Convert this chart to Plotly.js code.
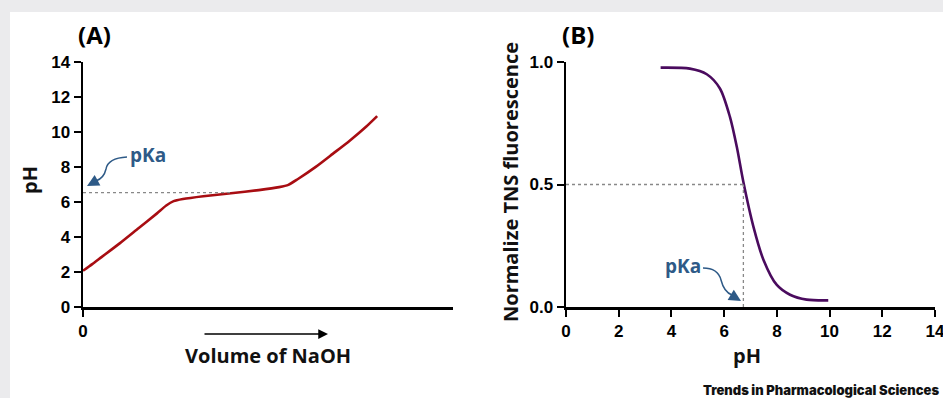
<!DOCTYPE html>
<html>
<head>
<meta charset="utf-8">
<script src="https://cdn.plot.ly/plotly-3.0.1.min.js"></script>
<style>html,body{margin:0;padding:0;background:#ebebed;}#chart{width:943px;height:398px;}</style>
</head>
<body>
<div id="chart"></div>
<script>
// Panel A: titration curve (volume of NaOH in arbitrary units vs pH)
const volumeA = [0, 0.5, 1.0, 2.0, 3.0, 4.0, 4.5, 4.9, 5.4, 6.5, 8.0, 9.5, 10.6, 11.1, 11.6, 12.6, 13.5, 14.4, 15.3, 15.9];
const pHA     = [2.07, 2.45, 2.85, 3.65, 4.5, 5.35, 5.8, 6.05, 6.17, 6.33, 6.5, 6.68, 6.85, 6.98, 7.3, 8.02, 8.75, 9.49, 10.3, 10.91];
const pKaA = 6.53;
const pKaCrossVolA = 7.95;
const yTicksA = [0, 2, 4, 6, 8, 10, 12, 14];
const xTicksA = [0];

// Panel B: normalised TNS fluorescence vs pH
const pHB   = [3.59, 4.70, 5.34, 5.84, 6.22, 6.48, 6.73, 7.11, 7.49, 7.99, 8.50, 9.13, 9.95];
const fluoB = [0.977, 0.973, 0.950, 0.892, 0.776, 0.654, 0.51, 0.328, 0.193, 0.091, 0.050, 0.030, 0.027];
const pKaB = 6.73;
const halfB = 0.5;
const xTicksB = [0, 2, 4, 6, 8, 10, 12, 14];
const yTicksB = [0, 0.5, 1.0];

const W = 943, H = 398;
const px = x => x / W;
const py = y => 1 - y / H;
const P = (x, y) => px(x) + ' ' + py(y);

const tickFont = {family: 'Liberation Sans, Arial, sans-serif', size: 17, color: '#000', weight: 'bold'};
const titleFont = {family: 'Open Sans, sans-serif', size: 20, color: '#111', weight: 'bold'};
const blue = '#2e5a87';

const axisCommon = {
  showline: true, linecolor: '#000', linewidth: 2.5, mirror: false,
  ticks: 'outside', ticklen: 7, tickwidth: 2, tickcolor: '#000',
  showgrid: false, zeroline: false, tickfont: tickFont, fixedrange: true,
  ticklabeloverflow: 'allow'
};
const yDomain = [py(307), py(62)];

const traces = [
  {x: volumeA, y: pHA, xaxis: 'x', yaxis: 'y', mode: 'lines',
   line: {color: '#a80d12', width: 2.6, shape: 'spline', smoothing: 0.6}, hoverinfo: 'skip'},
  {x: pHB, y: fluoB, xaxis: 'x2', yaxis: 'y2', mode: 'lines',
   line: {color: '#4a0b5e', width: 2.6, shape: 'spline', smoothing: 0.8}, hoverinfo: 'skip'}
];

function label(text, x, y, font, extra) {
  return Object.assign({text: text, xref: 'paper', yref: 'paper', x: px(x), y: py(y),
    xanchor: 'center', yanchor: 'middle', showarrow: false, font: font}, extra || {});
}

const layout = {
  width: W, height: H,
  margin: {l: 0, r: 0, t: 0, b: 0},
  paper_bgcolor: '#ebebed', plot_bgcolor: 'rgba(0,0,0,0)',
  showlegend: false,
  xaxis: Object.assign({}, axisCommon, {domain: [px(83), px(453)], range: [0, 20], tickvals: xTicksA, ticktext: ['0'], anchor: 'y'}),
  yaxis: Object.assign({}, axisCommon, {domain: yDomain, range: [0, 14], tickvals: yTicksA, anchor: 'x'}),
  xaxis2: Object.assign({}, axisCommon, {domain: [px(566), px(935)], range: [0, 14], tickvals: xTicksB, anchor: 'y2'}),
  yaxis2: Object.assign({}, axisCommon, {domain: yDomain, range: [0, 1], tickvals: yTicksB, tickformat: '.1f', anchor: 'x2'}),
  shapes: [
    {type: 'rect', xref: 'paper', yref: 'paper', x0: px(10), x1: 1, y0: 0, y1: py(12),
     fillcolor: '#ffffff', line: {width: 0}, layer: 'below'},
    {type: 'line', xref: 'x', yref: 'y', x0: 0, x1: pKaCrossVolA, y0: pKaA, y1: pKaA,
     line: {color: '#888', width: 1.3, dash: 'dot'}},
    {type: 'line', xref: 'x2', yref: 'y2', x0: 0, x1: pKaB, y0: halfB, y1: halfB,
     line: {color: '#888', width: 1.3, dash: 'dot'}},
    {type: 'line', xref: 'x2', yref: 'y2', x0: pKaB, x1: pKaB, y0: 0, y1: halfB,
     line: {color: '#888', width: 1.3, dash: 'dot'}},
    {type: 'path', xref: 'paper', yref: 'paper',
     path: 'M ' + P(127, 157) + ' Q ' + P(108, 158) + ' ' + P(106, 169) + ' Q ' + P(104, 178) + ' ' + P(96, 181),
     line: {color: blue, width: 1.5}},
    {type: 'path', xref: 'paper', yref: 'paper',
     path: 'M ' + P(703, 268) + ' Q ' + P(718, 268) + ' ' + P(721, 280) + ' Q ' + P(724, 292) + ' ' + P(732, 295),
     line: {color: blue, width: 1.5}}
  ],
  annotations: [
    label('(A)', 94, 34, {family: 'Open Sans, sans-serif', size: 24, color: '#000', weight: 'bold'}),
    label('(B)', 578, 34, {family: 'Open Sans, sans-serif', size: 24, color: '#000', weight: 'bold'}),
    label('pH', 30, 180, titleFont, {textangle: -90}),
    label('Volume of NaOH', 268, 355, titleFont),
    label('pH', 747, 355, titleFont),
    label('Normalize TNS fluorescence', 510, 182, {family: 'Open Sans, sans-serif', size: 20, color: '#111', weight: 'bold'}, {textangle: -90}),
    label('pKa', 148, 155, {family: 'Open Sans, sans-serif', size: 19, color: blue, weight: 'bold'}),
    label('pKa', 683, 266, {family: 'Open Sans, sans-serif', size: 19, color: blue, weight: 'bold'}),
    {text: '', xref: 'paper', yref: 'paper', x: px(87), y: py(186), ax: 11, ay: -6,
     showarrow: true, arrowhead: 2, arrowsize: 1.6, arrowwidth: 1.5, arrowcolor: blue},
    {text: '', xref: 'paper', yref: 'paper', x: px(741), y: py(301), ax: -10, ay: -6,
     showarrow: true, arrowhead: 2, arrowsize: 1.6, arrowwidth: 1.5, arrowcolor: blue},
    {text: '', xref: 'paper', yref: 'paper', x: px(328), y: py(334), ax: -125, ay: 0,
     showarrow: true, arrowhead: 2, arrowsize: 1.3, arrowwidth: 1.5, arrowcolor: '#000'},
    {text: 'Trends in Pharmacological Sciences', xref: 'paper', yref: 'paper', x: px(941), y: py(390),
     xanchor: 'right', yanchor: 'middle', showarrow: false,
     font: {family: 'Inter, sans-serif', size: 13, color: '#111', weight: 900}}
  ]
};

Plotly.newPlot('chart', traces, layout, {displayModeBar: false, staticPlot: true});
</script>
</body>
</html>
